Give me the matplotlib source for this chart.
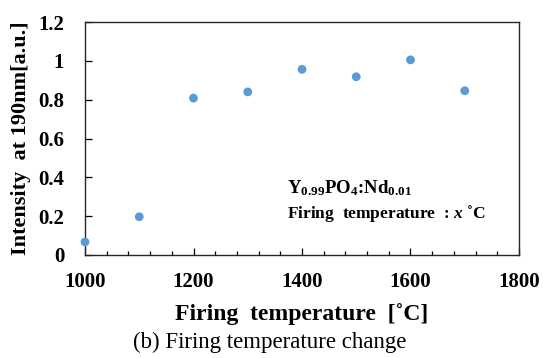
import matplotlib
matplotlib.use("Agg")
import matplotlib.pyplot as plt
from matplotlib.ticker import MultipleLocator

# data
temps = [1000, 1100, 1200, 1300, 1400, 1500, 1600, 1700]
intensity = [0.067, 0.197, 0.808, 0.840, 0.956, 0.918, 1.005, 0.846]

x_ticks = [1000, 1200, 1400, 1600, 1800]
y_ticks = [0, 0.2, 0.4, 0.6, 0.8, 1.0, 1.2]
y_tick_labels = ["0", "0.2", "0.4", "0.6", "0.8", "1", "1.2"]

plt.rcParams['font.family'] = ['Liberation Serif', 'DejaVu Serif']
plt.rcParams['mathtext.fontset'] = 'custom'
plt.rcParams['mathtext.rm'] = 'Liberation Serif:bold'
plt.rcParams['mathtext.it'] = 'Liberation Serif:italic:bold'
plt.rcParams['mathtext.bf'] = 'Liberation Serif:bold'

fig = plt.figure(figsize=(5.43, 3.58), dpi=100)
W, H = 543, 358
ax = fig.add_axes([85 / W, 1 - 255 / H, (519 - 85) / W, (255 - 22) / H])

ax.scatter(temps, intensity, s=40, color="#5B9BD5", zorder=3, clip_on=False,
           edgecolors="none")

ax.set_xlim(1000, 1800)
ax.set_ylim(0, 1.2)
ax.set_xticks(x_ticks)
ax.set_xticklabels([str(t) for t in x_ticks])
ax.xaxis.set_minor_locator(MultipleLocator(40))
ax.set_yticks(y_ticks)
ax.set_yticklabels(y_tick_labels)

ax.tick_params(axis="both", which="major", direction="in", length=5, width=0.9,
               labelsize=15, colors="black")
ax.tick_params(axis="y", which="major", pad=15)
ax.tick_params(axis="x", which="major", pad=12)
ax.tick_params(axis="x", which="minor", direction="in", length=3, width=0.9)
for lab in ax.get_xticklabels() + ax.get_yticklabels():
    lab.set_fontweight("bold")

for sp in ax.spines.values():
    sp.set_linewidth(1.0)
    sp.set_color("#262626")

ax.set_xlabel("Firing  temperature  [˚C]", fontsize=17, fontweight="bold", labelpad=8)
ax.set_ylabel("Intensity  at 190nm[a.u.]", fontsize=16, fontweight="bold", labelpad=5)

ax.text(0.465, 0.288, r"Y$_{0.99}$PO$_4$:Nd$_{0.01}$", transform=ax.transAxes,
        fontsize=13.5, fontweight="bold", va="center", ha="left")
ax.text(0.465, 0.18, r"Firing  temperature  : $x$ ˚C", transform=ax.transAxes,
        fontsize=12.5, fontweight="bold", va="center", ha="left")

fig.text(270 / W, 1 - 342 / H, "(b) Firing temperature change", fontsize=16.5,
         ha="center", va="center")

fig.savefig("out.png", dpi=100)
